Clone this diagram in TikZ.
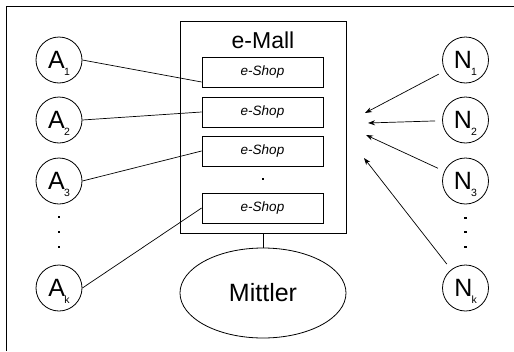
\documentclass[tikz,border=0pt]{standalone}
\usepackage{fontspec}
\setmainfont{Liberation Sans}
\usetikzlibrary{shapes.geometric,arrows.meta}
\newcommand{\partyname}[2]{#1\kern-0.8pt\smash{\raisebox{-7pt}{\fontsize{10.5}{10.5}\selectfont #2}}}
\tikzset{
  party/.style={circle,draw,line width=0.8pt,minimum size=46pt,inner sep=0pt,
                font=\fontsize{25}{25}\selectfont},
  shop/.style={draw,line width=0.8pt,minimum width=121pt,minimum height=30pt,
               inner sep=0pt,font=\fontsize{13.5}{14}\selectfont\itshape},
  link/.style={line width=0.7pt},
  arr/.style={line width=0.7pt,-{Stealth[length=7pt,width=5pt]},shorten <=7pt},
  vdot/.style={fill=black}
}
\begin{document}
\begin{tikzpicture}[x=1pt,y=-1pt]
  \useasboundingbox (0,0) rectangle (514,351);
  % frame (only its top and left edges lie inside the page)
  \draw[line width=1pt] (6,351) -- (6,6) -- (514,6);

  % e-Mall with its shops
  \node[draw,line width=0.8pt,minimum width=166pt,minimum height=212pt,inner sep=0pt] (mall) at (263,127) {};
  \node[font=\fontsize{23}{23}\selectfont] (malltitle) at (263,40) {e-Mall};
  \node[shop] (s1) at (262.5,72)  {e-Shop};
  \node[shop] (s2) at (262.5,112) {e-Shop};
  \node[shop] (s3) at (262.5,151) {e-Shop};
  \node[shop] (s4) at (262.5,208) {e-Shop};
  \fill[vdot] (261.8,177.8) rectangle ++(2.6,2.6);

  % intermediary
  \node[ellipse,draw,line width=0.8pt,minimum width=166pt,minimum height=90pt,inner sep=0pt,
        font=\fontsize{25}{25}\selectfont] (mit) at (263,293) {Mittler};
  \draw[link] (mall.south) -- (mit.north);

  % providers on the left
  \node[party] (A1) at (59,60)  {\partyname{A}{1}};
  \node[party] (A2) at (59,120) {\partyname{A}{2}};
  \node[party] (A3) at (59,181) {\partyname{A}{3}};
  \node[party] (Ak) at (59,288) {\partyname{A}{k}};
  \foreach \y in {217,232,247} \fill[vdot] (57.7,\y-1.3) rectangle ++(2.6,2.6);

  \draw[link] (A1.east) -- ([yshift=-10pt]s1.west);
  \draw[link] (A2.east) -- (s2.west);
  \draw[link] (A3.east) -- (s3.west);
  \draw[link] (Ak.east) -- (s4.west);

  % customers on the right
  \node[party] (N1) at (465.5,60)  {\partyname{N}{1}};
  \node[party] (N2) at (465.5,120) {\partyname{N}{2}};
  \node[party] (N3) at (465.5,181) {\partyname{N}{3}};
  \node[party] (Nk) at (465.5,288) {\partyname{N}{k}};
  \foreach \y in {218,232,247} \fill[vdot] (464.2,\y-1.3) rectangle ++(2.6,2.6);

  \coordinate (t1) at (365,113);
  \coordinate (t2) at (368,123);
  \coordinate (t3) at (366,135);
  \coordinate (t4) at (364,158);
  \draw[arr] (N1) -- (t1);
  \draw[arr] (N2) -- (t2);
  \draw[arr] (N3) -- (t3);
  \draw[arr] (Nk) -- (t4);
\end{tikzpicture}
\end{document}
